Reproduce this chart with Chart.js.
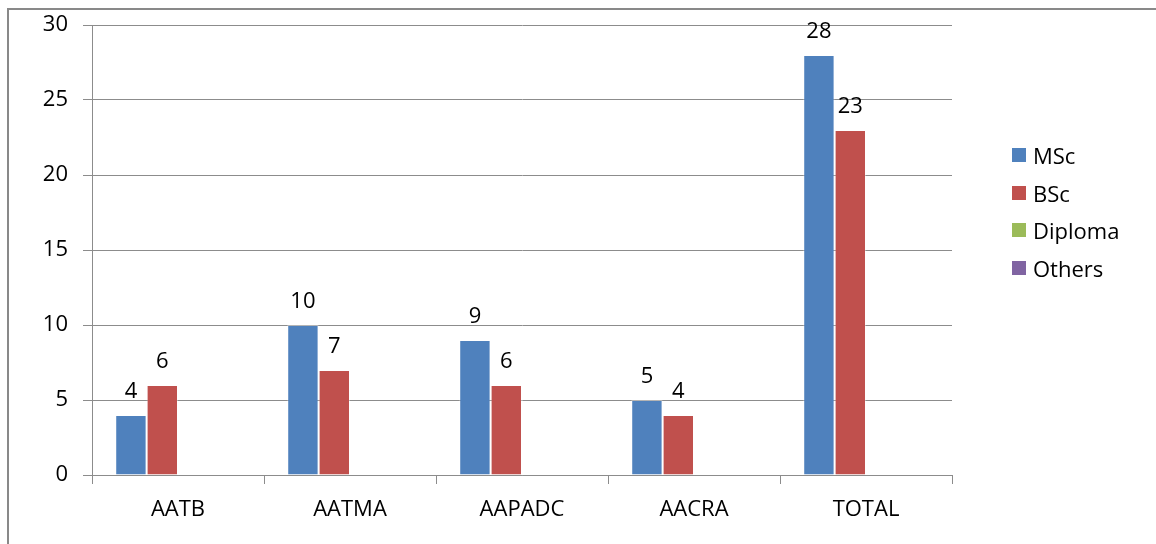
<!DOCTYPE html>
<html>
<head>
<meta charset="utf-8">
<script src="https://cdn.jsdelivr.net/npm/chart.js@4"></script>
<style>
  html, body { margin: 0; padding: 0; background: #fff; overflow: hidden; }
  #wrap { position: relative; width: 1156px; height: 544px; font-family: 'Open Sans', 'DejaVu Sans', sans-serif; }
  #frame {
    position: absolute; left: 7px; top: 8px; width: 1200px; height: 600px;
    border-top: 2px solid #898989; border-left: 2px solid #898989;
    pointer-events: none;
  }
  canvas { position: absolute; left: 0; top: 0; }
  #legend { position: absolute; left: 1012px; top: 136px; margin: 0; padding: 0; list-style: none; }
  #legend li { height: 37.7px; display: flex; align-items: center; font-size: 22px; color: #000; }
  #legend span { display: inline-block; width: 14px; height: 14px; margin-right: 7px; }
</style>
</head>
<body>
<div id="wrap">
  <canvas id="chart" width="1156" height="544"></canvas>
  <ul id="legend"></ul>
  <div id="frame"></div>
</div>
<script>
const categories = ["AATB", "AATMA", "AAPADC", "AACRA", "TOTAL"];
const seriesNames = ["MSc", "BSc", "Diploma", "Others"];
const msc = [4, 10, 9, 5, 28];
const bsc = [6, 7, 6, 4, 23];
const diploma = [null, null, null, null, null];
const others = [null, null, null, null, null];
const yTicks = [0, 5, 10, 15, 20, 25, 30];

const colors = ["#4F81BD", "#C0504D", "#9BBB59", "#8064A2"];
const FONT = "'Open Sans', 'DejaVu Sans', sans-serif";

// value labels above each bar
const barLabels = {
  id: "barLabels",
  afterDatasetsDraw(chart) {
    const ctx = chart.ctx;
    ctx.save();
    ctx.font = "22px " + FONT;
    ctx.fillStyle = "#000";
    ctx.textAlign = "center";
    ctx.textBaseline = "bottom";
    chart.data.datasets.forEach((ds, i) => {
      const meta = chart.getDatasetMeta(i);
      meta.data.forEach((bar, j) => {
        const v = ds.data[j];
        if (v == null) return;
        ctx.fillText(String(v), bar.x, bar.y - 12);
      });
    });
    ctx.restore();
  }
};

new Chart(document.getElementById("chart"), {
  type: "bar",
  data: {
    labels: categories,
    datasets: [msc, bsc, diploma, others].map((d, i) => ({
      label: seriesNames[i],
      data: d,
      backgroundColor: colors[i],
      borderColor: "rgba(255,255,255,0.35)",
      borderWidth: 1,
      categoryPercentage: 0.73,
      barPercentage: 1.0
    }))
  },
  options: {
    responsive: false,
    animation: false,
    devicePixelRatio: 1,
    layout: { padding: { top: 25, right: 204, bottom: 0, left: 0 } },
    plugins: {
      tooltip: { enabled: false },
      legend: { display: false }
    },
    scales: {
      x: {
        grid: {
          offset: true,
          drawOnChartArea: false,
          drawTicks: true,
          tickLength: 9,
          color: "#8c8c8c"
        },
        border: { color: "#8c8c8c", width: 1 },
        ticks: { color: "#000", padding: 13, font: { family: FONT, size: 22 } },
        afterFit(s) { s.height = 69; }
      },
      y: {
        min: 0,
        max: 30,
        afterBuildTicks(s) { s.ticks = yTicks.map(v => ({ value: v })); },
        grid: { color: "#8c8c8c", tickLength: 9 },
        border: { color: "#8c8c8c", width: 1 },
        ticks: { color: "#000", padding: 15, font: { family: FONT, size: 22 } },
        afterFit(s) { s.width = 92; s.paddingTop = 0; s.paddingBottom = 0; }
      }
    }
  },
  plugins: [barLabels]
});

// legend built from the series names and colours
document.getElementById("legend").innerHTML = seriesNames
  .map((n, i) => `<li><span style="background:${colors[i]}"></span>${n}</li>`)
  .join("");
</script>
</body>
</html>
